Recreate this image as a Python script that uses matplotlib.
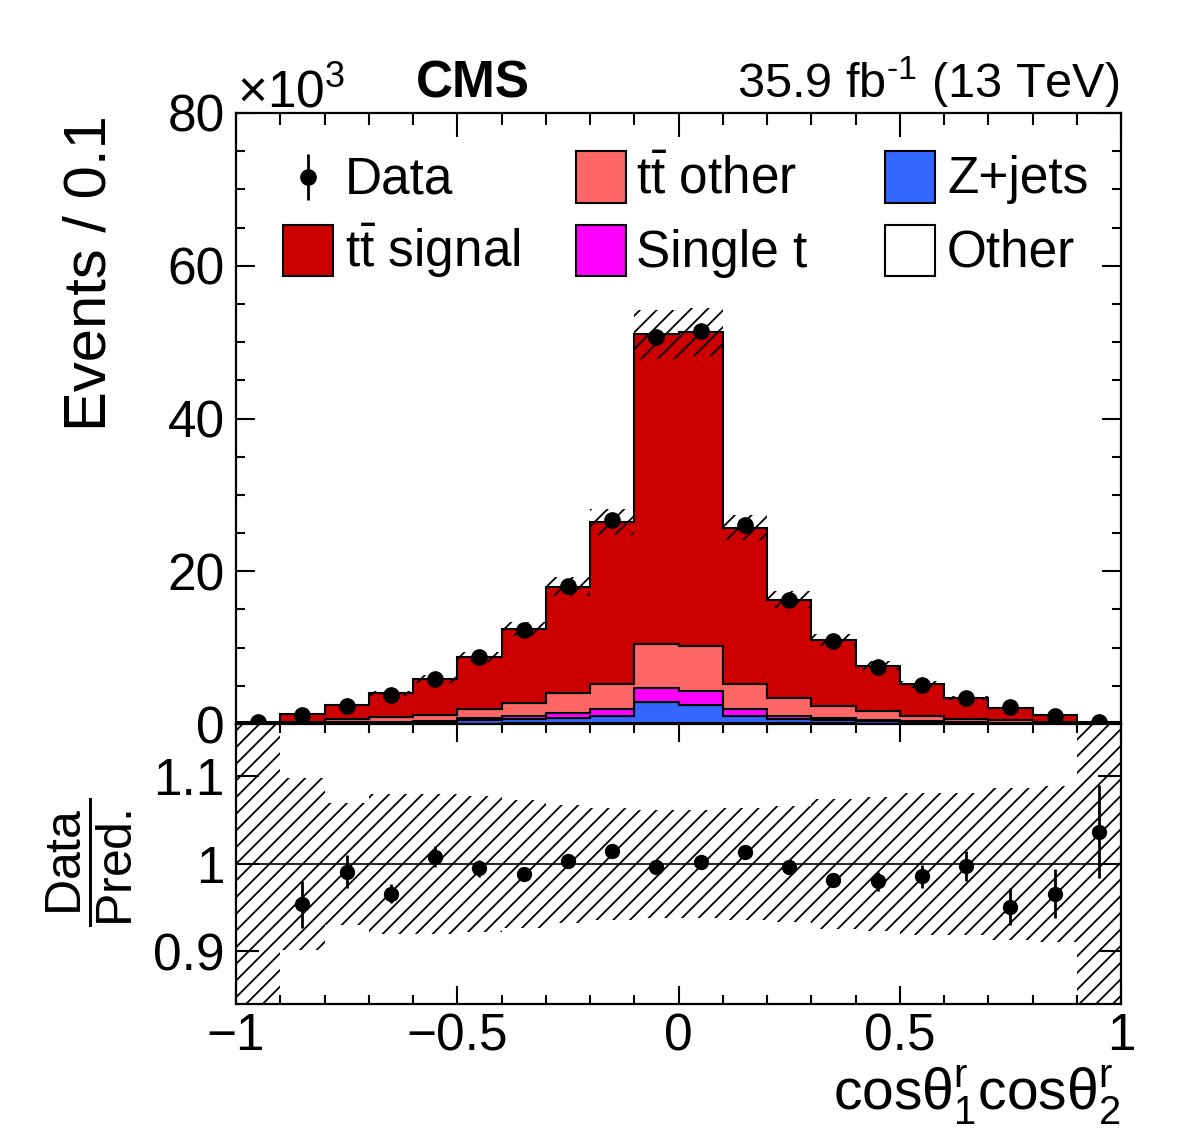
import numpy as np
import matplotlib
matplotlib.use('Agg')
import matplotlib.pyplot as plt
from matplotlib.ticker import MultipleLocator, FixedLocator, FuncFormatter
from matplotlib.patches import Rectangle

plt.rcParams['font.family'] = ['Liberation Sans', 'DejaVu Sans']
plt.rcParams['mathtext.fontset'] = 'custom'
plt.rcParams['mathtext.rm'] = 'Liberation Sans'
plt.rcParams['mathtext.it'] = 'Liberation Sans:italic'
plt.rcParams['mathtext.bf'] = 'Liberation Sans:bold'
plt.rcParams['hatch.linewidth'] = 1.3
plt.rcParams['axes.linewidth'] = 1.6

# binning of cos(theta1) cos(theta2)
edges = [-1.0, -0.9, -0.8, -0.7, -0.6, -0.5, -0.4, -0.3, -0.2, -0.1, 0.0,
         0.1, 0.2, 0.3, 0.4, 0.5, 0.6, 0.7, 0.8, 0.9, 1.0]

# yields in units of 10^3 events
data = [0.22, 1.18, 2.40, 3.86, 5.93, 8.75, 12.30, 18.07, 26.70, 50.70,
        51.40, 26.05, 16.20, 10.85, 7.45, 5.10, 3.38, 2.18, 1.09, 0.22]
data_err = [0.05, 0.03, 0.05, 0.06, 0.08, 0.09, 0.11, 0.13, 0.16, 0.23,
            0.23, 0.16, 0.13, 0.10, 0.09, 0.07, 0.06, 0.05, 0.03, 0.05]
other = [0.0, 0.01, 0.02, 0.03, 0.04, 0.06, 0.08, 0.10, 0.12, 0.15,
         0.15, 0.12, 0.10, 0.08, 0.06, 0.04, 0.03, 0.02, 0.01, 0.0]
zjets = [0.0, 0.04, 0.08, 0.12, 0.21, 0.44, 0.62, 0.70, 0.93, 2.69,
         2.34, 0.88, 0.50, 0.42, 0.29, 0.21, 0.12, 0.08, 0.04, 0.0]
single_t = [0.0, 0.05, 0.10, 0.15, 0.20, 0.30, 0.35, 0.70, 0.91, 1.83,
            1.79, 0.92, 0.50, 0.30, 0.20, 0.15, 0.10, 0.05, 0.03, 0.0]
tt_other = [0.02, 0.20, 0.40, 0.66, 0.75, 1.20, 1.75, 2.50, 3.34, 5.83,
            5.92, 3.32, 2.26, 1.50, 1.20, 0.70, 0.45, 0.35, 0.22, 0.02]
tt_signal = [0.18, 0.95, 1.90, 3.04, 4.70, 6.80, 9.60, 14.00, 21.10, 40.50,
             41.10, 20.46, 12.94, 8.70, 5.85, 4.10, 2.70, 1.60, 0.85, 0.18]

# relative uncertainty of the prediction (outer bins cover the full range)
pred_unc = [1.0, 0.098, 0.070, 0.080, 0.080, 0.078, 0.073, 0.067, 0.064, 0.062,
            0.062, 0.064, 0.066, 0.074, 0.077, 0.081, 0.081, 0.087, 0.089, 1.0]

ratio = [np.nan, 0.954, 0.991, 0.966, 1.008, 0.995, 0.988, 1.003, 1.015, 0.996,
         1.002, 1.014, 0.997, 0.982, 0.980, 0.986, 0.998, 0.951, 0.966, 1.037]
ratio_err = [np.nan, 0.027, 0.019, 0.011, 0.012, 0.010, 0.007, 0.005, 0.004, 0.003,
             0.003, 0.004, 0.005, 0.007, 0.011, 0.013, 0.017, 0.021, 0.028, 0.053]

labels = [r'$\mathrm{t\bar{t}}$ signal', r'$\mathrm{t\bar{t}}$ other', 'Single t', 'Z+jets', 'Other']
colors = ['#cc0000', '#ff6666', '#ff00ff', '#3366ff', 'white']

edges = np.array(edges)
centers = (edges[:-1] + edges[1:]) / 2
W, H = 1182, 1134
fig = plt.figure(figsize=(W / 100, H / 100), dpi=100)
ax = fig.add_axes([236 / W, 1 - 724 / H, 885 / W, 611 / H])
rax = fig.add_axes([236 / W, 1 - 1004 / H, 885 / W, 280 / H], sharex=ax)

# stacked prediction, bottom to top
stack = [other, zjets, single_t, tt_other, tt_signal]
stack_colors = colors[::-1]
bottom = np.zeros(len(centers))
for vals, col in zip(stack, stack_colors):
    top = bottom + np.array(vals)
    ax.stairs(top, edges, baseline=bottom, fill=True, facecolor=col,
              edgecolor='black', linewidth=1.5)
    bottom = top
total = bottom
unc = np.array(pred_unc)

ax.stairs(total * (1 + unc), edges, baseline=total * (1 - unc), fill=True,
          facecolor='none', edgecolor='black', hatch='//', linewidth=0)
ax.errorbar(centers, data, yerr=data_err, fmt='o', color='black', ms=11,
            elinewidth=2, capsize=0, zorder=5)

# ratio panel
rax.stairs(1 + unc, edges, baseline=1 - unc, fill=True, facecolor='none',
           edgecolor='black', hatch='//', linewidth=0)
rax.axhline(1, color='black', lw=1.2)
rax.errorbar(centers, ratio, yerr=ratio_err, fmt='o', color='black', ms=10,
             elinewidth=2, capsize=0, zorder=5)


def fmt(v, pos):
    return ('%g' % v).replace('-', '\u2212')


ax.set_xlim(-1, 1)
ax.set_ylim(0, 80)
ax.yaxis.set_major_locator(MultipleLocator(20))
ax.yaxis.set_minor_locator(MultipleLocator(5))
ax.xaxis.set_major_locator(MultipleLocator(0.5))
ax.xaxis.set_minor_locator(MultipleLocator(0.1))
ax.tick_params(axis='both', which='both', direction='in', top=True, right=True,
               bottom=False, labelbottom=False, labelsize=37, width=1.5)
ax.tick_params(axis='x', which='major', length=17)
ax.tick_params(axis='x', which='minor', length=8.5)
ax.tick_params(axis='y', which='major', length=14, pad=8)
ax.tick_params(axis='y', which='minor', length=6.5)
ax.yaxis.set_major_formatter(FuncFormatter(fmt))

rax.set_ylim(0.84, 1.16)
rax.yaxis.set_major_locator(FixedLocator([0.9, 1.0, 1.1]))
rax.yaxis.set_major_formatter(FuncFormatter(fmt))
rax.xaxis.set_major_formatter(FuncFormatter(fmt))
rax.tick_params(axis='both', which='both', direction='in', top=True, right=True,
                labelsize=37, width=1.5)
rax.tick_params(axis='x', which='major', length=13, pad=6)
rax.tick_params(axis='x', which='minor', length=6.5)
rax.tick_params(axis='y', which='major', length=16.5, pad=8)

# legend drawn by hand in axes coordinates, three columns
box_x = [0.0531, 0.3842, 0.7333]
text_x = [0.1232, 0.4520, 0.8034]
row_c = [0.8953, 0.7758]
row_base = [0.869, 0.748]
entries = [('Data', None), (labels[0], colors[0]), (labels[1], colors[1]),
           (labels[2], colors[2]), (labels[3], colors[3]), (labels[4], colors[4])]
for i, (lab, col) in enumerate(entries):
    c, r = i // 2, i % 2
    if col is None:
        ax.errorbar([box_x[c] + 0.0283], [row_c[r]], yerr=[0.037], fmt='o',
                    color='black', ms=11, elinewidth=2, capsize=0,
                    transform=ax.transAxes, clip_on=False)
    else:
        ax.add_patch(Rectangle((box_x[c], row_c[r] - 0.0418), 0.0565, 0.0835,
                               transform=ax.transAxes, facecolor=col,
                               edgecolor='black', linewidth=1.5))
    ax.text(text_x[c], row_base[r], lab, transform=ax.transAxes, fontsize=37,
            ha='left', va='baseline')

fig.text(237 / W, 1 - 107 / H, r'$\times10^{3}$', fontsize=37, ha='left', va='baseline')
fig.text(473 / W, 1 - 98 / H, 'CMS', fontsize=37, weight='bold', ha='center', va='baseline')
fig.text(1119 / W, 1 - 98 / H, r'35.9 fb$^{\text{-}1}$ (13 TeV)', fontsize=35,
         ha='right', va='baseline')
fig.text(90 / W, 1 - 115 / H, 'Events / 0.1', rotation=90, fontsize=43,
         ha='center', va='top')
fig.text(90 / W, 1 - 862 / H, r'$\dfrac{\mathrm{Data}}{\mathrm{Pred.}}$', rotation=90,
         fontsize=36, ha='center', va='center')
fig.text(1121 / W, 1 - 1110 / H, r'$\mathrm{cos\theta_{1}^{r}cos\theta_{2}^{r}}$',
         fontsize=41, ha='right', va='baseline')

fig.savefig('out.png', dpi=100)
